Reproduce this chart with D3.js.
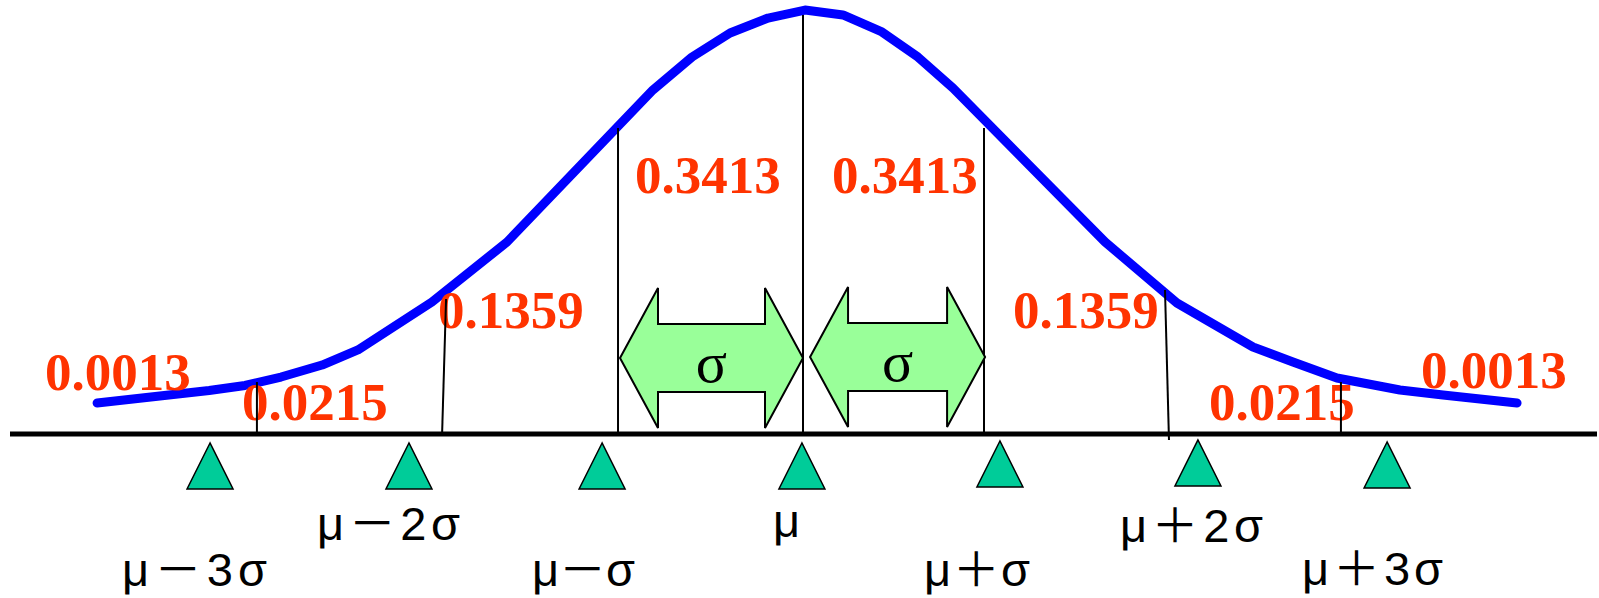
<!DOCTYPE html>
<html>
<head>
<meta charset="utf-8">
<script src="https://cdn.jsdelivr.net/npm/d3@7"></script>
<style>
  html, body { margin: 0; padding: 0; background: #ffffff; }
  svg { display: block; }
</style>
</head>
<body>
<svg id="chart" width="1599" height="598"></svg>
<script>
// ---------- DATA ----------
// Curve vertices: x in sigma units, y as density
const curveX = [-3.900, -3.281, -3.083, -2.884, -2.657, -2.459, -2.050, -1.635, -0.829, -0.613, -0.403, -0.193, 0.011,
                0.221, 0.436, 0.635, 0.829, 1.669, 2.066, 2.486, 2.707, 2.950, 3.298, 3.536, 3.945];
const curveY = [0.0292, 0.0409, 0.0457, 0.0536, 0.0649, 0.0791, 0.1242, 0.1807, 0.3238, 0.3548, 0.3774, 0.3915, 0.3990,
                0.3944, 0.3784, 0.3548, 0.3256, 0.1807, 0.1233, 0.0819, 0.0678, 0.0527, 0.0414, 0.0367, 0.0292];

// Boundary lines (sigma units), top & bottom (density units)
const boundTopX    = [-3.017, -1.972, -1.022, 0.000, 1.000, 2.000, 2.972];
const boundBottomX = [-3.017, -1.994, -1.022, 0.000, 1.000, 2.022, 2.972];
const boundTop     = [0.0489, 0.1271, 0.2880, 0.3944, 0.2880, 0.1355, 0.0489];
const boundBottom  = [0, 0, 0, 0, 0, -0.0056, 0];

// Probability labels
const probText = ["0.0013", "0.0215", "0.1359", "0.3413", "0.3413", "0.1359", "0.0215", "0.0013"];
const probX    = [-4.188, -3.100, -2.017, -0.928, 0.160, 1.160, 2.243, 3.414];
const probY    = [0.0414, 0.0132, 0.0998, 0.2268, 0.2268, 0.0998, 0.0132, 0.0433];

// Marker triangles (sigma units) and tick labels
const markerX   = [-3.276, -2.177, -1.110, -0.006, 1.088, 2.182, 3.227];
const markerTop = [-0.0085, -0.0085, -0.0085, -0.0085, -0.0066, -0.0056, -0.0075];
const tickText  = ["μ－3σ", "μ－2σ", "μ－σ", "μ", "μ＋σ", "μ＋2σ", "μ＋3σ"];
const tickX     = [-3.762, -2.685, -1.497, -0.166, 0.669, 1.751, 2.757];

// Double arrows spanning one sigma each
const arrowFrom = [-1.011, 0.039];
const arrowTo   = [0.000, 1.006];
const arrowText = ["σ", "σ"];

// ---------- LAYOUT ----------
const W = 1599, H = 598;
const baseY = 434;
const tickBaseline = [586, 540, 586, 537, 586, 542, 585];
const tickWidth    = [145, 143, 103, 30, 106, 143, 141];
const arrowCY = [358, 357];

const svg = d3.select("#chart");
const x = d3.scaleLinear().domain([-4, 4]).range([803 - 4 * 181, 803 + 4 * 181]);
const y = d3.scaleLinear().domain([0, 0.4]).range([baseY, baseY - 425]);

// baseline axis
svg.append("line")
  .attr("x1", 10).attr("x2", 1597)
  .attr("y1", baseY).attr("y2", baseY)
  .attr("stroke", "#000").attr("stroke-width", 5);

// curve
const pts = curveX.map((v, i) => [v, curveY[i]]);
svg.append("path")
  .datum(pts)
  .attr("d", d3.line().x(d => x(d[0])).y(d => y(d[1])))
  .attr("fill", "none")
  .attr("stroke", "#0000FF")
  .attr("stroke-width", 9)
  .attr("stroke-linecap", "round")
  .attr("stroke-linejoin", "round");

// probability labels
svg.selectAll("text.prob")
  .data(probText)
  .enter().append("text")
  .attr("class", "prob")
  .attr("x", (d, i) => x(probX[i]))
  .attr("y", (d, i) => y(probY[i]))
  .attr("font-family", "'Liberation Serif', 'Times New Roman', serif")
  .attr("font-weight", "bold")
  .attr("font-size", 53)
  .attr("fill", "#FF3300")
  .text(d => d);

// boundary lines
svg.selectAll("line.bound")
  .data(boundTopX)
  .enter().append("line")
  .attr("class", "bound")
  .attr("x1", (d, i) => x(d))
  .attr("y1", (d, i) => y(boundTop[i]))
  .attr("x2", (d, i) => x(boundBottomX[i]))
  .attr("y2", (d, i) => y(boundBottom[i]))
  .attr("stroke", "#000")
  .attr("stroke-width", 2);

// double arrows
const headLen = 38, headHalf = 70, shaftHalf = 34;
arrowFrom.forEach((a, i) => {
  const x0 = x(a), x1 = x(arrowTo[i]), cy = arrowCY[i];
  const p = [
    [x0, cy],
    [x0 + headLen, cy - headHalf],
    [x0 + headLen, cy - shaftHalf],
    [x1 - headLen, cy - shaftHalf],
    [x1 - headLen, cy - headHalf],
    [x1, cy],
    [x1 - headLen, cy + headHalf],
    [x1 - headLen, cy + shaftHalf],
    [x0 + headLen, cy + shaftHalf],
    [x0 + headLen, cy + headHalf]
  ];
  svg.append("path")
    .attr("d", "M" + p.map(q => q.join(",")).join("L") + "Z")
    .attr("fill", "#99FF99")
    .attr("stroke", "#000")
    .attr("stroke-width", 2)
    .attr("stroke-linejoin", "miter");
  svg.append("text")
    .attr("x", (x0 + x1) / 2)
    .attr("y", cy + 24)
    .attr("text-anchor", "middle")
    .attr("font-family", "'Liberation Serif', 'Times New Roman', serif")
    .attr("font-size", 58)
    .attr("fill", "#000")
    .text(arrowText[i]);
});

// marker triangles
const triHalf = 23, triH = 46;
svg.selectAll("path.marker")
  .data(markerX)
  .enter().append("path")
  .attr("class", "marker")
  .attr("d", (d, i) => {
    const cx = x(d), ty = y(markerTop[i]);
    return `M${cx},${ty}L${cx - triHalf},${ty + triH}L${cx + triHalf},${ty + triH}Z`;
  })
  .attr("fill", "#00CC99")
  .attr("stroke", "#000")
  .attr("stroke-width", 1.5);

// tick labels
svg.selectAll("text.tick")
  .data(tickText)
  .enter().append("text")
  .attr("class", "tick")
  .attr("x", (d, i) => x(tickX[i]))
  .attr("y", (d, i) => tickBaseline[i])
  .attr("font-family", "'Liberation Sans', 'Noto Sans CJK JP', sans-serif")
  .attr("font-size", 47)
  .attr("fill", "#000")
  .each(function (d, i) {
    if (d.length > 1) {
      d3.select(this).attr("textLength", tickWidth[i]).attr("lengthAdjust", "spacing");
    }
  })
  .text(d => d);
</script>
</body>
</html>
